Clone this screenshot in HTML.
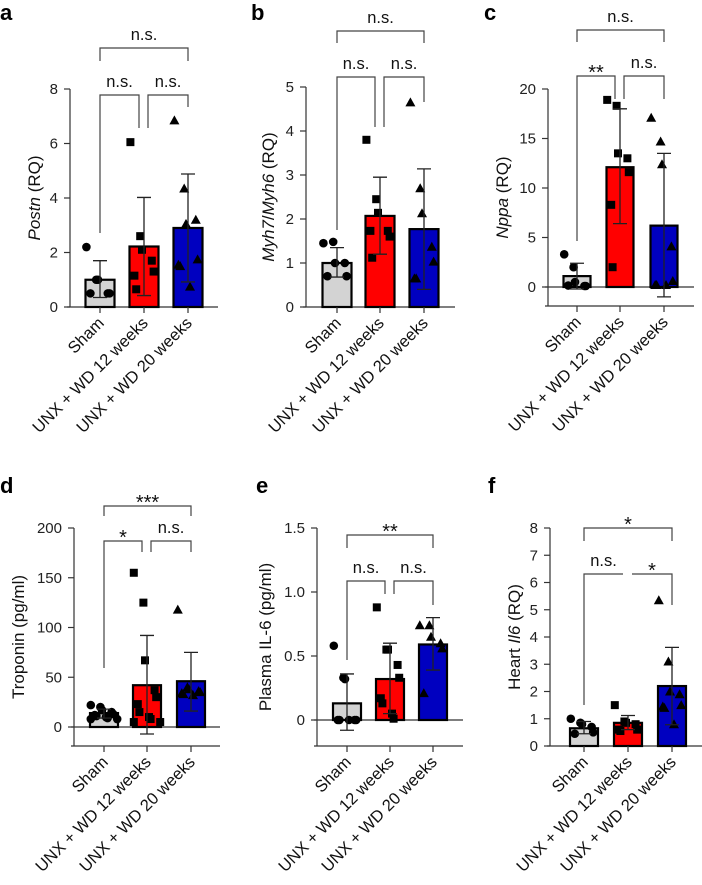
<!DOCTYPE html>
<html><head><meta charset="utf-8">
<style>
body{margin:0;background:#fff;}
svg{display:block;font-family:"Liberation Sans",sans-serif;}
</style></head>
<body>
<svg id="fig" width="702" height="885" viewBox="0 0 702 885" xmlns="http://www.w3.org/2000/svg"></svg>
<script>
const groups = ["Sham","UNX + WD 12 weeks","UNX + WD 20 weeks"];
// panel a Postn
const aMeans=[1.0,2.22,2.9];
const aHi=[1.7,4.02,4.88];
const aLo=[0.35,0.42,0.92];
const aPts=[[2.2,1.0,1.0,0.5,0.5,0.5],[6.05,2.6,2.1,1.7,1.3,1.15,0.65],[6.85,4.35,3.05,3.2,1.75,1.55,1.5,0.75]];
const aTicks=[0,2,4,6,8];
// panel b Myh7/Myh6
const bMeans=[1.0,2.07,1.77];
const bHi=[1.35,2.95,3.14];
const bLo=[0.68,1.2,0.4];
const bPts=[[1.45,1.48,1.0,1.0,0.7,0.7],[3.8,2.45,2.14,1.73,1.6,1.73,1.12],[4.65,2.7,2.13,1.37,1.03,0.65,0.65]];
const bTicks=[0,1,2,3,4,5];
// panel c Nppa
const cMeans=[1.1,12.1,6.2];
const cHi=[2.4,18.0,13.5];
const cLo=[-0.2,6.4,-1.0];
const cPts=[[3.3,2.0,0.5,0.1,0.1,0.15],[18.9,18.3,13.5,13.0,11.6,8.3,2.0],[17.1,14.7,12.4,4.1,0.6,0.2,0.2,0.2]];
const cTicks=[0,5,10,15,20];
// panel d Troponin
const dMeans=[14,42,46];
const dHi=[18,92,75];
const dLo=[9,-7,16];
const dPts=[[22,20,17,15,13,12,11,10,9,8,8],[155,125,67,37,30,23,15,10,8,5,5],[118,40,38,36,35,34,33,32]];
const dTicks=[0,50,100,150,200];
// panel e IL-6
const eMeans=[0.13,0.32,0.59];
const eHi=[0.36,0.6,0.8];
const eLo=[-0.08,0.05,0.39];
const ePts=[[0.58,0.33,0.32,0,0,0,0,0],[0.88,0.55,0.55,0.43,0.33,0.17,0.13,0.05,0.01],[0.74,0.74,0.65,0.6,0.56,0.21]];
const eTicks=[0,0.5,1.0,1.5];
const eTickLabels=["0","0.5","1.0","1.5"];
// panel f Il6
const fMeans=[0.65,0.85,2.2];
const fHi=[0.9,1.12,3.62];
const fLo=[0.45,0.6,0.78];
const fPts=[[1.0,0.85,0.8,0.7,0.5,0.45],[1.5,0.9,0.85,0.8,0.6,0.6,0.55],[5.35,3.1,2.0,1.9,1.5,1.45,1.4,0.8]];
const fTicks=[0,1,2,3,4,5,6,7,8];

const NS="http://www.w3.org/2000/svg";
const svg=document.getElementById('fig');
function mk(tag,attrs,parent){const e=document.createElementNS(NS,tag);for(const k in attrs)e.setAttribute(k,attrs[k]);(parent||svg).appendChild(e);return e;}
const fills=["#d3d3d3","#ff0000","#0000c0"];

const panels=[
 {id:'a',lab:[0,20],ax:70,y0:307,top:8,topPx:89,bottom:307,zeroLine:false,bars:[100,144,188],bw:29,
  means:aMeans,hi:aHi,lo:aLo,pts:aPts,ticks:aTicks,title:[{t:'Postn',i:true},{t:' (RQ)'}],tx:28,
  br:[[0,2,48,61,61,'n.s.'],[0,1,95,233,128,'n.s.'],[1,2,95,128,107,'n.s.']],xr:218},
 {id:'b',lab:[251,20],ax:306,y0:307,top:5,topPx:87,bottom:307,zeroLine:false,bars:[337,380,424],bw:29,
  means:bMeans,hi:bHi,lo:bLo,pts:bPts,ticks:bTicks,title:[{t:'Myh7',i:true},{t:'/'},{t:'Myh6',i:true},{t:' (RQ)'}],tx:262,
  br:[[0,2,31,43,43,'n.s.'],[0,1,77,230,127,'n.s.'],[1,2,77,127,102,'n.s.']],xr:455},
 {id:'c',lab:[484,20],ax:548,y0:287,top:20,topPx:89,bottom:306,zeroLine:true,bars:[577,620,664],bw:27,
  means:cMeans,hi:cHi,lo:cLo,pts:cPts,ticks:cTicks,title:[{t:'Nppa',i:true},{t:' (RQ)'}],tx:496,
  br:[[0,2,30,42,42,'n.s.'],[0,1,76,241,99,'**'],[1,2,76,99,99,'n.s.']],xr:694},
 {id:'d',lab:[0,493],ax:74,y0:727,top:200,topPx:528,bottom:746,zeroLine:true,bars:[104,147,191],bw:28,
  means:dMeans,hi:dHi,lo:dLo,pts:dPts,ticks:dTicks,title:[{t:'Troponin (pg/ml)'}],tx:12,
  br:[[0,2,506,516,516,'***'],[0,1,541,668,552,'*'],[1,2,541,552,552,'n.s.']],xr:220},
 {id:'e',lab:[256,493],ax:317,y0:720,top:1.5,topPx:528,bottom:746,zeroLine:true,bars:[347,390,433],bw:28,
  means:eMeans,hi:eHi,lo:eLo,pts:ePts,ticks:eTicks,tl:eTickLabels,title:[{t:'Plasma IL-6 (pg/ml)'}],tx:259,
  br:[[0,2,535,548,548,'**'],[0,1,581,660,594,'n.s.'],[1,2,581,594,605,'n.s.']],xr:463},
 {id:'f',lab:[488,493],ax:550,y0:746,top:8,topPx:528,bottom:746,zeroLine:false,bars:[584,628,672],bw:28,
  means:fMeans,hi:fHi,lo:fLo,pts:fPts,ticks:fTicks,title:[{t:'Heart '},{t:'Il6',i:true},{t:' (RQ)'}],tx:508,
  br:[[0,2,528,541,541,'*'],[0,1,574,705,574,'n.s.'],[1,2,574,574,605,'*']],xr:702}
];

panels.forEach(p=>{
  const g=mk('g',{});
  
  
  const sy=v=>p.y0-(v/p.top)*(p.y0-p.topPx);
  const L=mk('text',{x:p.lab[0],y:p.lab[1],'font-size':22,'font-weight':'bold',fill:'#000'},g);L.textContent=p.id;
  
  // y axis
  const ya=mk('line',{x1:p.ax,x2:p.ax,y1:p.topPx,y2:p.bottom,stroke:'#333','stroke-width':1.2},g);
  
  p.ticks.forEach((t,k)=>{
    const y=sy(t);
    mk('line',{x1:p.ax-6,x2:p.ax,y1:y,y2:y,stroke:'#333','stroke-width':1.2},g);
    const tt=mk('text',{x:p.ax-12,y:y+5,'font-size':15,'text-anchor':'end',fill:'#222'},g);
    tt.textContent=p.tl?p.tl[k]:String(t);
    
  });
  // x axis
  const xa=mk('line',{x1:p.ax-3,x2:p.xr,y1:p.bottom,y2:p.bottom,stroke:'#333','stroke-width':1.2},g);
  
  if(p.zeroLine){const z=mk('line',{x1:p.ax-3,x2:p.xr,y1:sy(0),y2:sy(0),stroke:'#333','stroke-width':1.2},g);
    }
  // title
  const ty=(p.topPx+p.bottom)/2;
  const T=mk('text',{x:0,y:0,'font-size':17,'text-anchor':'middle',fill:'#111',transform:`translate(${p.tx+12},${ty}) rotate(-90)`},g);
  p.title.forEach(s=>{const ts=mk('tspan',s.i?{'font-style':'italic'}:{},T);ts.textContent=s.t;});
  
  // bars
  groups.forEach((gn,i)=>{
    const cx=p.bars[i];
    const yt=sy(p.means[i]), yb=sy(0);
    const r=mk('rect',{x:cx-p.bw/2,y:Math.min(yt,yb),width:p.bw,height:Math.abs(yb-yt),fill:fills[i],stroke:'#000','stroke-width':2.2},g);
    
    // points
    const pts=p.pts[i];
    pts.forEach((v,k)=>{
      const off=((k%5)-2)*(p.bw/5)+((k%2)?2:-2);
      const x=cx+off, y=sy(v);
      let m;
      if(i===0) m=mk('circle',{cx:x,cy:y,r:4.3,fill:'#000'},g);
      else if(i===1) m=mk('rect',{x:x-4,y:y-4,width:8,height:8,fill:'#000'},g);
      else m=mk('polygon',{points:`${x},${y-5} ${x+5},${y+4} ${x-5},${y+4}`,fill:'#000'},g);
      
    });
    // error bar
    const yh=sy(p.hi[i]), yl=sy(p.lo[i]);
    const eb=mk('path',{d:`M${cx},${yh}V${yl}M${cx-7},${yh}H${cx+7}M${cx-7},${yl}H${cx+7}`,stroke:'#222','stroke-width':1.3,fill:'none'},g);
    
    // x tick and label
    mk('line',{x1:cx,x2:cx,y1:p.bottom,y2:p.bottom+6,stroke:'#333','stroke-width':1.2},g);
    const xl=mk('text',{x:0,y:0,'font-size':16.5,'text-anchor':'end',fill:'#111',transform:`translate(${cx+5},${p.bottom+17}) rotate(-45)`},g);
    xl.textContent=gn;
    
  });
  // brackets
  p.br.forEach(b=>{
    const x1=p.bars[b[0]]+(b[0]===1?-4:0)+(b[0]===1?8:0), x2=p.bars[b[1]]+(b[1]===1?-5:0);
    const xa1=b[0]===1?p.bars[1]+4:p.bars[b[0]];
    const pa=mk('path',{d:`M${xa1},${b[3]}V${b[2]}H${x2}V${b[4]}`,stroke:'#444','stroke-width':1.2,fill:'none'},g);
    
    const st=b[5].indexOf('*')>=0;
    const tx=mk('text',{x:(xa1+x2)/2,y:st?b[2]-4+7:b[2]-8,'font-size':st?20:16.5,'text-anchor':'middle',fill:'#111'},g);
    tx.textContent=b[5];
    
  });
});
</script>
</body></html>
